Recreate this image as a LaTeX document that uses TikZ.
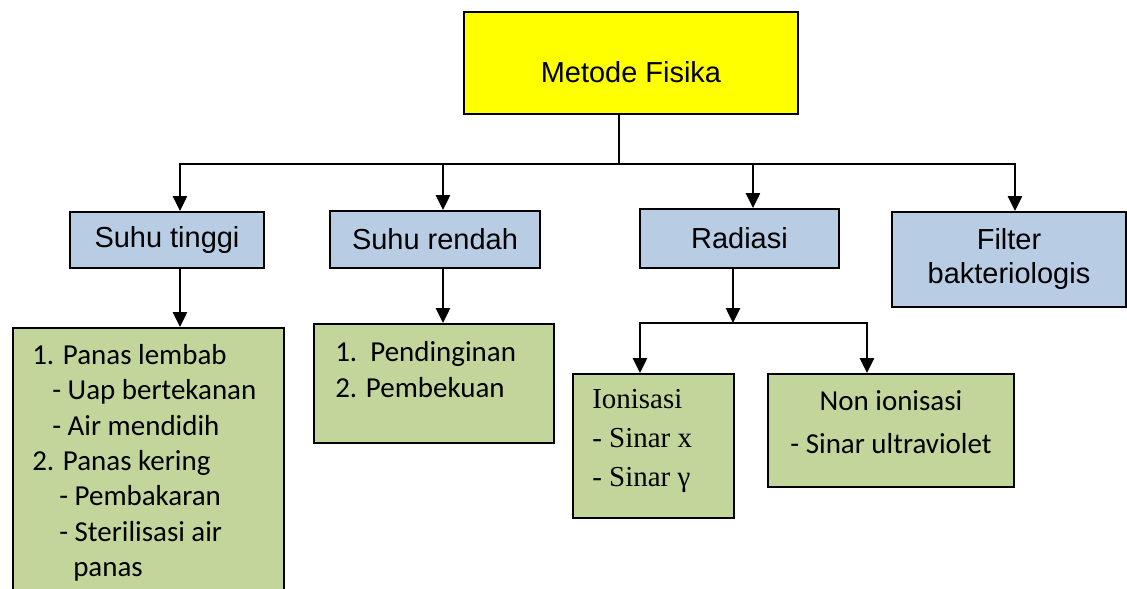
\documentclass[tikz,border=0pt]{standalone}
\usepackage{fontspec}
\usepackage{xcolor}
\usepackage{tikz}
\usetikzlibrary{arrows.meta,positioning}
\newfontfamily\arialf{Liberation Sans}
\newfontfamily\calibf{Carlito}
\newfontfamily\timesf{Liberation Serif}
\definecolor{headfill}{HTML}{FFFF00}
\definecolor{catfill}{HTML}{B8CCE4}
\definecolor{subfill}{HTML}{C2D69B}
\tikzset{
  box/.style={draw=black,line width=1.4pt,inner sep=0pt,anchor=north west,align=center},
  headbox/.style={box,fill=headfill,font=\arialf\fontsize{20.6}{24.2}\selectfont,
    text height=10mm,text depth=0pt},
  catbox/.style={box,fill=catfill,font=\arialf\fontsize{20.6}{24.2}\selectfont},
  subbox/.style={box,fill=subfill},
  subtxt/.style={inner sep=0pt,align=left,font=\calibf\fontsize{20.6}{25.2}\selectfont},
  flow/.style={-{Triangle[length=3.7mm,width=3.5mm]},line width=1.4pt},
}

\begin{document}
\begin{tikzpicture}
  \useasboundingbox (0,0) rectangle (281.75mm,-147.25mm);
  \clip (0,0) rectangle (281.75mm,-147.25mm);
  % root
  \node[headbox,minimum width=83.5mm,minimum height=25.5mm] (head) at (115.75mm,-2.75mm) {Metode Fisika};
  % the four methods
  \node[catbox,minimum width=48.5mm,minimum height=14mm] (tinggi) at (17.25mm,-52.75mm) {Suhu tinggi};
  \node[catbox,minimum width=52.5mm,minimum height=14.25mm] (rendah) at (82.25mm,-52.5mm) {Suhu rendah};
  \node[catbox,minimum width=49.75mm,minimum height=14.75mm] (radiasi) at (159.75mm,-52mm) {Radiasi};
  \node[catbox,minimum width=58.5mm,minimum height=23.75mm] (filter) at (222.75mm,-52.75mm) {Filter\\bakteriologis};
  % green boxes (text set on top of them)
  \node[subbox,minimum width=67.75mm,minimum height=70mm] (lembab) at (3mm,-81.75mm) {};
  \node[subbox,minimum width=60mm,minimum height=29.75mm] (dingin) at (78.25mm,-80.75mm) {};
  \node[subbox,minimum width=40.25mm,minimum height=36mm] (ion) at (143mm,-93.25mm) {};
  \node[subbox,minimum width=61.5mm,minimum height=28.25mm] (nonion) at (191.75mm,-93.25mm) {};
  \node[subtxt,below right=4.2mm and 5mm of lembab.north west] (lembabtxt)
    {1. Panas lembab\\
     \hspace*{5mm}- Uap bertekanan\\
     \hspace*{5mm}- Air mendidih\\
     2. Panas kering\\
     \hspace*{6.75mm}- Pembakaran\\
     \hspace*{6.75mm}- Sterilisasi air\\
     \hspace*{10.25mm}panas};
  \node[subtxt,below right=4.65mm and 5.5mm of dingin.north west] (dingintxt)
    {1.\ \ Pendinginan\\2. Pembekuan};
  \node[subtxt,font=\timesf\fontsize{20.6}{27.7}\selectfont,
    below right=4.05mm and 5mm of ion.north west] (iontxt) {Ionisasi\\- Sinar x\\- Sinar γ};
  \node[subtxt,align=center,font=\calibf\fontsize{20.6}{30.5}\selectfont,
    below=4.35mm of nonion.north] (noniontxt) {Non ionisasi\\- Sinar ultraviolet};
  % connectors
  \coordinate (bus) at (154.75mm,-41mm);
  \coordinate (rbus) at (183.25mm,-80.75mm);
  \draw[line width=1.4pt] (head.south -| bus) -- (bus);
  \foreach \n/\dx in {tinggi/3.25mm,rendah/2mm,radiasi/3.375mm,filter/1.5mm}
    \draw[flow] (bus) -| ([xshift=\dx]\n.north);
  \draw[flow] ([xshift=3.25mm]tinggi.south) -- ([xshift=3.25mm]tinggi.south |- lembab.north);
  \draw[flow] ([xshift=2mm]rendah.south) -- ([xshift=2mm]rendah.south |- dingin.north);
  \draw[flow] (radiasi.south -| rbus) -- (rbus);
  \draw[flow] (rbus) -| ([xshift=-3.375mm]ion.north);
  \draw[flow] (rbus) -| ([xshift=-6mm]nonion.north);
\end{tikzpicture}
\end{document}
